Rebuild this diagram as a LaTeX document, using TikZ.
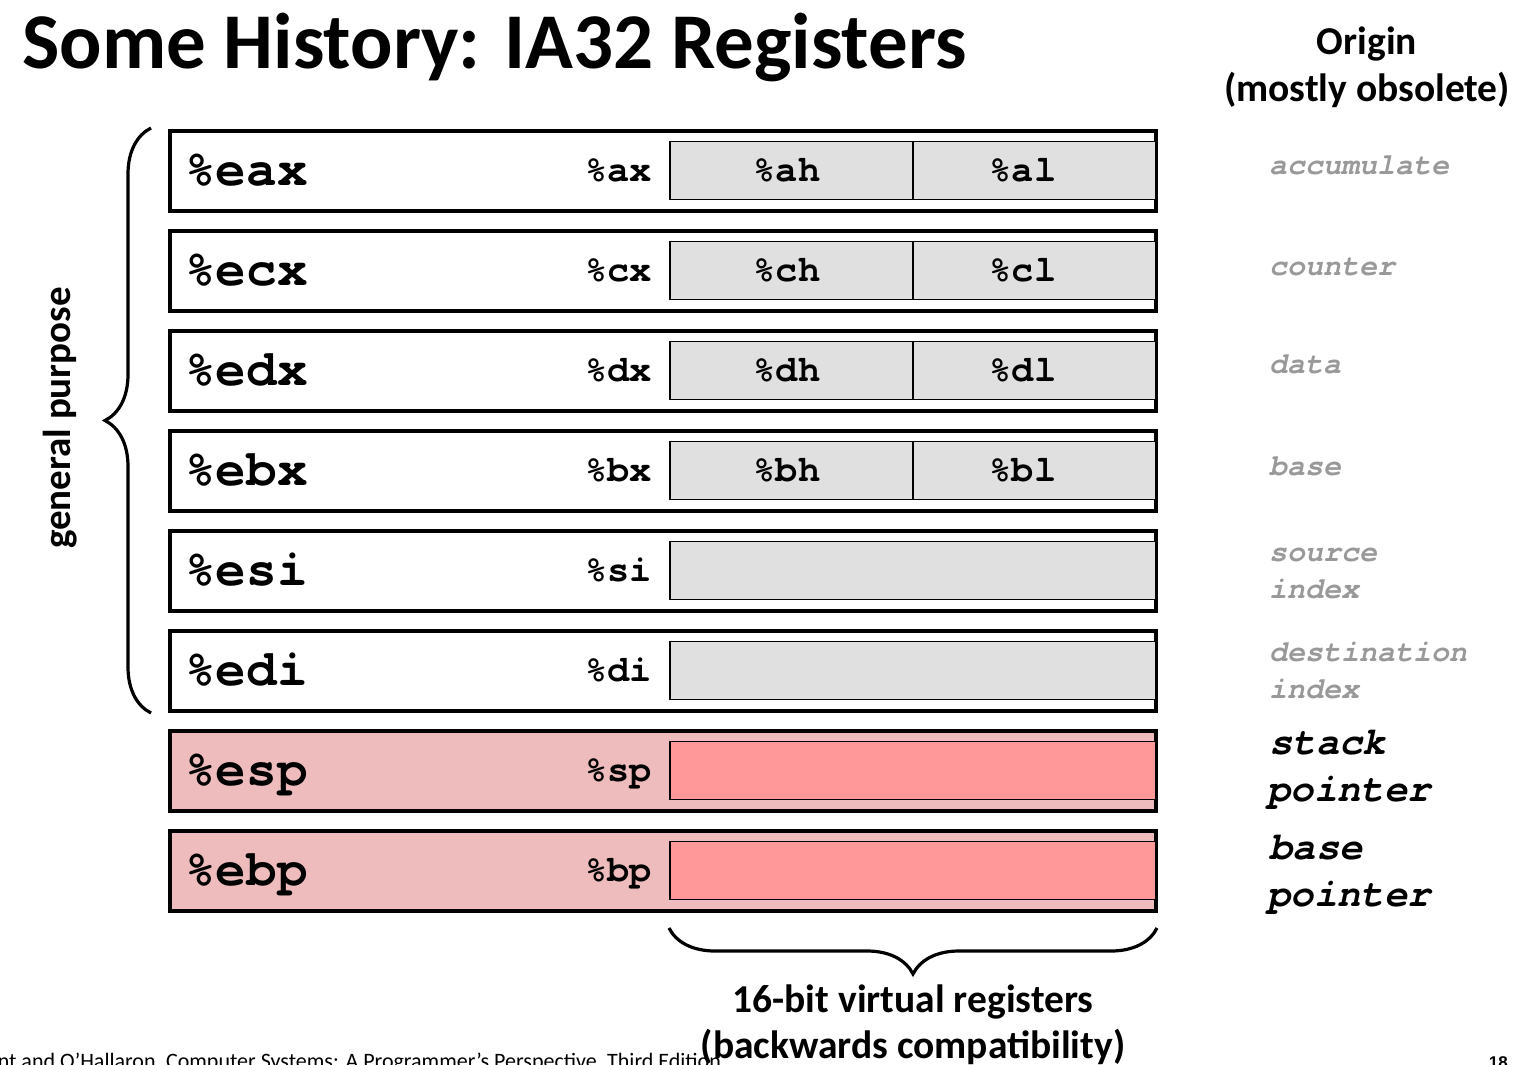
\documentclass[tikz,border=0pt]{standalone}
\usepackage{fontspec}
\setmainfont{Carlito}
\newfontfamily\monof{texgyrecursor}[Extension=.otf, UprightFont=*-regular, BoldFont=*-bold, ItalicFont=*-italic, BoldItalicFont=*-bolditalic]
\newfontfamily\arialf{Liberation Sans}
\usetikzlibrary{decorations.pathreplacing}
\definecolor{ingray}{HTML}{E0E0E0}
\definecolor{outred}{HTML}{EEBCBC}
\definecolor{inred}{HTML}{FF9999}
\definecolor{labgray}{HTML}{999999}
\begin{document}
\begin{tikzpicture}[x=1pt,y=-1pt,
  regbox/.style={draw=black, line width=4pt, minimum width=986pt, minimum height=80pt, inner sep=0pt, fill=white},
  inbox/.style={draw=black, line width=1.3pt, minimum width=486pt, minimum height=58pt, inner sep=0pt, fill=ingray},
  halfbox/.style={draw=black, line width=1.3pt, minimum width=243pt, minimum height=58pt, inner sep=0pt, fill=ingray},
  bigreg/.style={anchor=base west, inner sep=0pt, font=\monof\bfseries\fontsize{51}{55}\selectfont},
  smallreg/.style={inner sep=0pt, font=\monof\bfseries\fontsize{37}{40}\selectfont},
  origin/.style={anchor=base west, inner sep=0pt, text=labgray, font=\monof\bfseries\itshape\fontsize{30}{34}\selectfont},
  originb/.style={anchor=base west, inner sep=0pt, text=black, font=\monof\bfseries\itshape\fontsize{39}{42}\selectfont},
  heading/.style={inner sep=0pt, font=\bfseries\fontsize{39.5}{44}\selectfont},
  bracestyle/.style={decorate, decoration={brace, amplitude=46pt}, line width=3.2pt}
]
\useasboundingbox (0,0) rectangle (1520,1065);

% title
\node[anchor=base west, inner sep=0pt, font=\bfseries\fontsize{79}{90}\selectfont] (title) at (22,68) {Some History: IA32 Registers};
\node[heading, anchor=base] (orig1) at (1367,55) {Origin};
\node[heading, anchor=base] (orig2) at (1367,101) {(mostly obsolete)};

% rows 1-4
\foreach \i/\big/\mid/\hi/\lo in {0/eax/ax/ah/al, 1/ecx/cx/ch/cl, 2/edx/dx/dh/dl, 3/ebx/bx/bh/bl}{
  \pgfmathsetmacro{\yc}{170.5+100*\i}
  \node[regbox] (r\big) at (663,\yc) {};
  \node[halfbox] (h\big) at (791.5,\yc) {};
  \node[halfbox] (l\big) at (1034.5,\yc) {};
  \node[bigreg] (t\big) at (185,\yc+15) {\%\big};
  \node[smallreg, anchor=base east] (m\big) at (652,\yc+11) {\%\mid};
  \node[smallreg, anchor=base] (th\big) at (787,\yc+11) {\%\hi};
  \node[smallreg, anchor=base] (tl\big) at (1023,\yc+11) {\%\lo};
}
% rows 5-6
\foreach \i/\big/\mid in {4/esi/si, 5/edi/di}{
  \pgfmathsetmacro{\yc}{170.5+100*\i}
  \node[regbox] (r\big) at (663,\yc) {};
  \node[inbox] (i\big) at (913,\yc) {};
  \node[bigreg] (t\big) at (185,\yc+15) {\%\big};
  \node[smallreg, anchor=base east] (m\big) at (652,\yc+11) {\%\mid};
}
% rows 7-8
\foreach \i/\big/\mid in {6/esp/sp, 7/ebp/bp}{
  \pgfmathsetmacro{\yc}{170.5+100*\i}
  \node[regbox, fill=outred] (r\big) at (663,\yc) {};
  \node[inbox, fill=inred] (i\big) at (913,\yc) {};
  \node[bigreg] (t\big) at (185,\yc+15) {\%\big};
  \node[smallreg, anchor=base east] (m\big) at (652,\yc+11) {\%\mid};
}

% origin labels
\node[origin] (oacc) at (1269,174) {accumulate};
\node[origin] (ocnt) at (1269,275) {counter};
\node[origin] (odat) at (1269,373) {data};
\node[origin] (obas) at (1269,475) {base};
\node[origin] (osrc1) at (1269,561) {source};
\node[origin] (osrc2) at (1269,598) {index};
\node[origin] (odst1) at (1269,661) {destination};
\node[origin] (odst2) at (1269,698) {index};
\node[originb] (ostk1) at (1269,754) {stack};
\node[originb] (ostk2) at (1267,801) {pointer};
\node[originb] (obp1) at (1269,859) {base};
\node[originb] (obp2) at (1267,906) {pointer};

% braces
\coordinate (gtop) at (151,128);
\coordinate (gbot) at (151,713);
\draw[bracestyle] (gbot) -- (gtop);
\node[rotate=90, inner sep=0pt, font=\bfseries\fontsize{39}{44}\selectfont] (gp) at (60,418) {general purpose};

\coordinate (vbl) at (669,928);
\coordinate (vbr) at (1157,928);
\draw[bracestyle] (vbr) -- (vbl);
\node[heading, anchor=base] (v1) at (913,1012) {16-bit virtual registers};
\node[heading, anchor=base] (v2) at (913,1058) {(backwards compatibility)};

% footer
\node[anchor=base east, inner sep=0pt, font=\fontsize{22}{24}\selectfont] (foot) at (721,1068) {Bryant and O’Hallaron, Computer Systems: A Programmer’s Perspective, Third Edition};
\node[anchor=base east, inner sep=0pt, font=\arialf\bfseries\fontsize{17}{20}\selectfont] (pg) at (1508,1068) {18};
\end{tikzpicture}
\end{document}
